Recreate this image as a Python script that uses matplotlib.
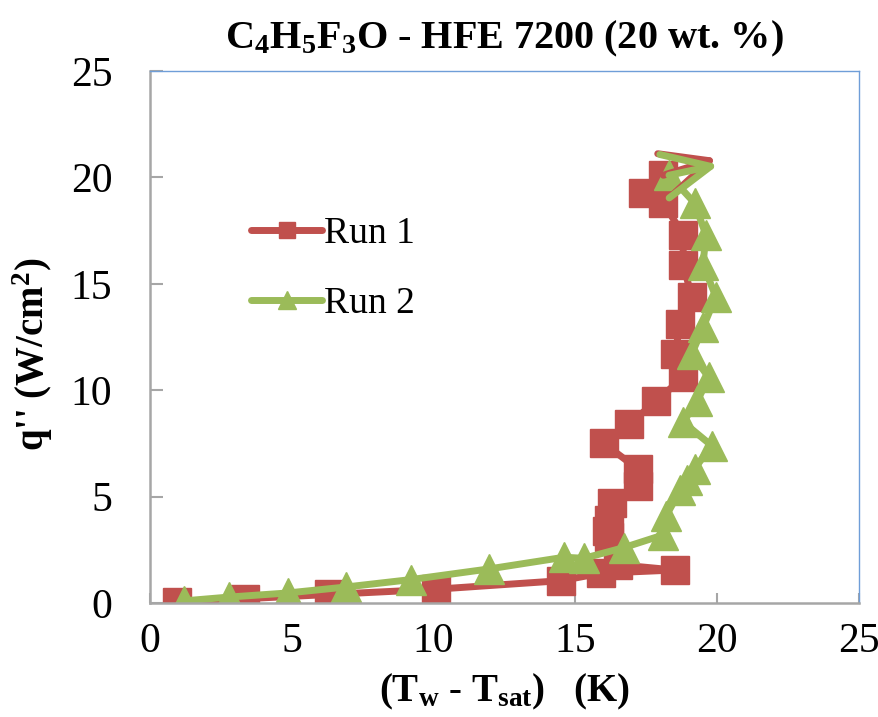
import matplotlib
matplotlib.use('Agg')
import matplotlib.pyplot as plt

# Run 1 (red squares) - wall superheat (K) and heat flux (W/cm2)
run1_dt = [0.95, 3.35, 6.3, 10.1, 14.5, 15.9, 18.5, 16.5, 16.2, 16.1, 16.2, 16.3,
           17.2, 17.2, 16.0, 16.9, 17.85, 18.8, 18.5, 18.7, 19.1, 18.8, 18.8,
           18.1, 17.4, 18.1]
run1_q = [0.05, 0.2, 0.4, 0.65, 1.05, 1.4, 1.55, 1.8, 3.1, 3.4, 3.9, 4.7,
          5.5, 6.3, 7.5, 8.4, 9.5, 10.6, 11.7, 13.1, 14.4, 15.9, 17.3,
          18.8, 19.25, 20.1]
run1_end = (20.0, 20.9)

# Run 2 (green triangles)
run2_dt = [1.2, 2.8, 4.85, 6.9, 9.2, 11.95, 14.6, 15.3, 16.7, 18.1, 18.2, 18.7,
           18.95, 19.2, 19.8, 18.8, 19.3, 19.7, 19.1, 19.5, 19.95, 19.5, 19.6,
           19.2, 18.3]
run2_q = [0.1, 0.28, 0.47, 0.75, 1.1, 1.6, 2.15, 2.1, 2.6, 3.2, 4.1, 5.3,
          5.8, 6.3, 7.4, 8.5, 9.5, 10.6, 11.7, 12.95, 14.4, 15.9, 17.3,
          18.8, 20.1]
run2_end = (20.05, 20.6)

red = '#C0504D'
green = '#9BBB59'

plt.rcParams['font.family'] = ['Liberation Serif', 'DejaVu Serif']
plt.rcParams['mathtext.fontset'] = 'custom'
plt.rcParams['mathtext.rm'] = 'Liberation Serif:bold'
plt.rcParams['mathtext.it'] = 'Liberation Serif:bold'
plt.rcParams['mathtext.bf'] = 'Liberation Serif:bold'

fig = plt.figure(figsize=(8.79, 7.17), dpi=100)
ax = fig.add_axes([0.1706, 0.159, 0.8067, 0.742])

ax.plot(run1_dt, run1_q, color=red, lw=5, marker='s', ms=19.5,
        mec=red, mfc=red, label='Run 1', solid_capstyle='round')
ax.plot(run2_dt, run2_q, color=green, lw=5, marker='^', ms=21,
        mec=green, mfc=green, label='Run 2', solid_capstyle='round')

# arrow-ended final segments
arrow_style = '->,head_length=1.7,head_width=0.8'
ax.annotate('', xy=run1_end, xytext=(run1_dt[-1], run1_q[-1]),
            arrowprops=dict(arrowstyle=arrow_style, color=red, lw=5,
                            mutation_scale=20, shrinkA=0, shrinkB=0,
                            capstyle='round'))
ax.annotate('', xy=run2_end, xytext=(run2_dt[-1], run2_q[-1]),
            arrowprops=dict(arrowstyle=arrow_style, color=green, lw=5,
                            mutation_scale=20, shrinkA=0, shrinkB=0,
                            capstyle='round'))

ax.set_xlim(0, 25)
ax.set_ylim(0, 25)
ax.set_xticks([0, 5, 10, 15, 20, 25])
ax.set_yticks([0, 5, 10, 15, 20, 25])

for side in ['left', 'bottom']:
    ax.spines[side].set_color('#A6A6A6')
    ax.spines[side].set_linewidth(1.8)
for side in ['top', 'right']:
    ax.spines[side].set_color('#6F9ED8')
    ax.spines[side].set_linewidth(1.0)

ax.tick_params(axis='x', direction='in', length=7, width=1.5, color='#A6A6A6',
               labelsize=30, pad=14)
ax.tick_params(axis='y', direction='in', length=9, width=1.5, color='#A6A6A6',
               labelsize=30, pad=27)

ax.set_title(r'C$_4$H$_5$F$_3$O - HFE 7200 (20 wt. %)', fontsize=29,
             fontweight='bold', pad=16)
ax.set_xlabel(r'(T$_\mathrm{w}$ - T$_\mathrm{sat}$)   (K)', fontsize=28,
              fontweight='bold', labelpad=8)
ax.set_ylabel(r"q'' (W/cm$^\mathrm{2}$)", fontsize=28, fontweight='bold')
ax.yaxis.set_label_coords(-0.134, 0.468)

leg = ax.legend(loc='upper left', bbox_to_anchor=(0.095, 0.79), frameon=False,
                fontsize=27, handlelength=1.9, markerscale=0.6,
                labelspacing=0.95, handletextpad=0.05)

fig.savefig('out.png', dpi=100)
